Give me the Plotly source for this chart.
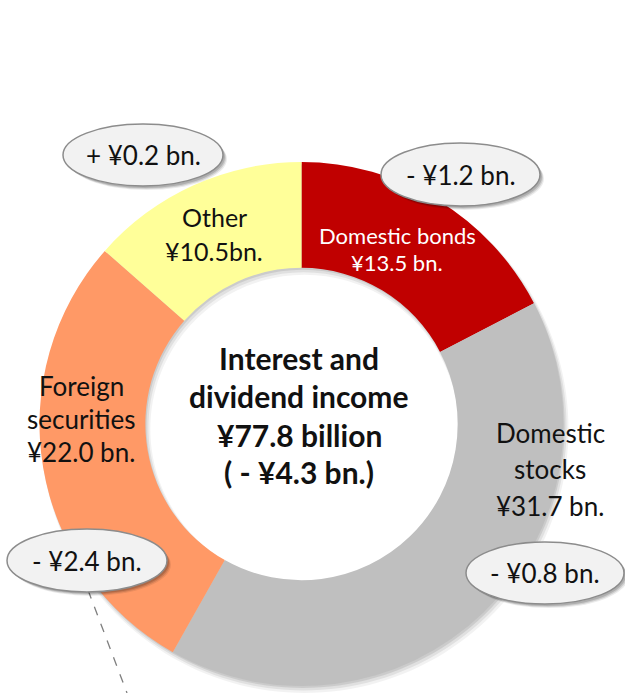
import math
import plotly.graph_objects as go

# Breakdown of interest and dividend income (¥ billion)
categories = ["Domestic bonds", "Domestic stocks", "Foreign securities", "Other"]
label_lines = [["Domestic bonds"], ["Domestic", "stocks"], ["Foreign", "securities"], ["Other"]]
amounts = [13.5, 31.7, 22.0, 10.5]
changes = [-1.2, -0.8, -2.4, 0.2]
amount_formats = ["¥{:.1f} bn.", "¥{:.1f} bn.", "¥{:.1f} bn.", "¥{:.1f}bn."]
total_income = 77.8
total_change = -4.3

colors = ["#C00000", "#BFBFBF", "#FF9966", "#FFFF99"]
text_colors = ["white", "#111111", "#111111", "#111111"]

W, H = 625, 693
FONT = "Lato"

# ring geometry in pixels
cx, cy, R = 301.5, 424.0, 262.0
hole = 0.596
r_in = R * hole

fig = go.Figure()
fig.add_trace(go.Pie(
    labels=categories,
    values=amounts,
    sort=False,
    direction="clockwise",
    rotation=0,
    hole=hole,
    marker=dict(colors=colors, line=dict(width=0)),
    textinfo="none",
    hoverinfo="skip",
    showlegend=False,
    domain=dict(x=[(cx - R) / W, (cx + R) / W], y=[1 - (cy + R) / H, 1 - (cy - R) / H]),
))


def ring_path(x, y, r_out, r_inner, n=180):
    """Closed annulus outline: outer circle one way, inner circle the other."""
    outer = [(x + r_out * math.cos(2 * math.pi * k / n), y + r_out * math.sin(2 * math.pi * k / n))
             for k in range(n)]
    inner = [(x + r_inner * math.cos(-2 * math.pi * k / n), y + r_inner * math.sin(-2 * math.pi * k / n))
             for k in range(n)]
    p = "M " + " L ".join(f"{a:.2f},{b:.2f}" for a, b in outer) + " Z "
    p += "M " + " L ".join(f"{a:.2f},{b:.2f}" for a, b in inner) + " Z"
    return p


shapes = []
# soft shadow cast by the ring (down-right)
for off, grow, alpha in ((5, 2.0, 0.05), (3.5, 1.0, 0.07), (2, 0.0, 0.09)):
    shapes.append(dict(type="path", xref="x", yref="y",
                       path=ring_path(cx + off * 0.6, cy + off, R + grow, r_in - grow),
                       fillcolor=f"rgba(0,0,0,{alpha})", line=dict(width=0), layer="below"))

# label placement per slice: x centre, y centre of each line, font size
label_pos = [
    (397, [235, 262], 22),
    (550, [433, 469, 506], 26),
    (81, [386, 419, 452], 26),
    (214, [217, 251], 25),
]

annotations = []
for i, (x, ys, size) in enumerate(label_pos):
    lines = label_lines[i] + [amount_formats[i].format(amounts[i])]
    for y, txt in zip(ys, lines):
        annotations.append(dict(x=x, y=y, xref="x", yref="y", text=txt, showarrow=False,
                                xanchor="center", yanchor="middle",
                                font=dict(family=FONT, size=size, color=text_colors[i])))

# centre title
centre_lines = ["Interest and", "dividend income", f"¥{total_income:.1f} billion",
                f"( - ¥{abs(total_change):.1f} bn.)"]
for y, txt in zip([358, 396, 435, 472], centre_lines):
    annotations.append(dict(x=299, y=y, xref="x", yref="y", text=f"<b>{txt}</b>", showarrow=False,
                            xanchor="center", yanchor="middle",
                            font=dict(family=FONT, size=30, color="#111111")))

# change callouts: ellipse bounds (x0, y0, x1, y1)
callout_boxes = [
    (381, 143, 540, 206),
    (466, 542, 624, 604),
    (7, 529, 167, 592),
    (63, 124, 223, 186),
]

# dashed leader from the foreign securities callout
shapes.append(dict(type="line", xref="x", yref="y", x0=88, y0=590, x1=127, y1=693,
                   line=dict(color="#7F7F7F", width=1.3, dash="dash"), layer="above"))
for i, (x0, y0, x1, y1) in enumerate(callout_boxes):
    # soft drop shadow
    for off, alpha in ((4, 0.08), (3, 0.12), (2, 0.15)):
        shapes.append(dict(type="circle", xref="x", yref="y", x0=x0 + off, y0=y0 + off,
                           x1=x1 + off, y1=y1 + off, fillcolor=f"rgba(0,0,0,{alpha})",
                           line=dict(width=0), layer="above"))
    shapes.append(dict(type="circle", xref="x", yref="y", x0=x0, y0=y0, x1=x1, y1=y1,
                       fillcolor="#F2F2F2", line=dict(color="#8C8C8C", width=1.5), layer="above"))
    c = changes[i]
    sign = "+" if c > 0 else "-"
    annotations.append(dict(x=(x0 + x1) / 2, y=(y0 + y1) / 2, xref="x", yref="y",
                            text=f"{sign} ¥{abs(c):.1f} bn.", showarrow=False,
                            xanchor="center", yanchor="middle",
                            font=dict(family=FONT, size=26, color="#111111")))

fig.update_layout(
    width=W, height=H,
    margin=dict(l=0, r=0, t=0, b=0),
    paper_bgcolor="white", plot_bgcolor="rgba(0,0,0,0)",
    xaxis=dict(range=[0, W], visible=False, fixedrange=True),
    yaxis=dict(range=[H, 0], visible=False, fixedrange=True),
    shapes=shapes,
    annotations=annotations,
)

fig.write_html("out.html")
